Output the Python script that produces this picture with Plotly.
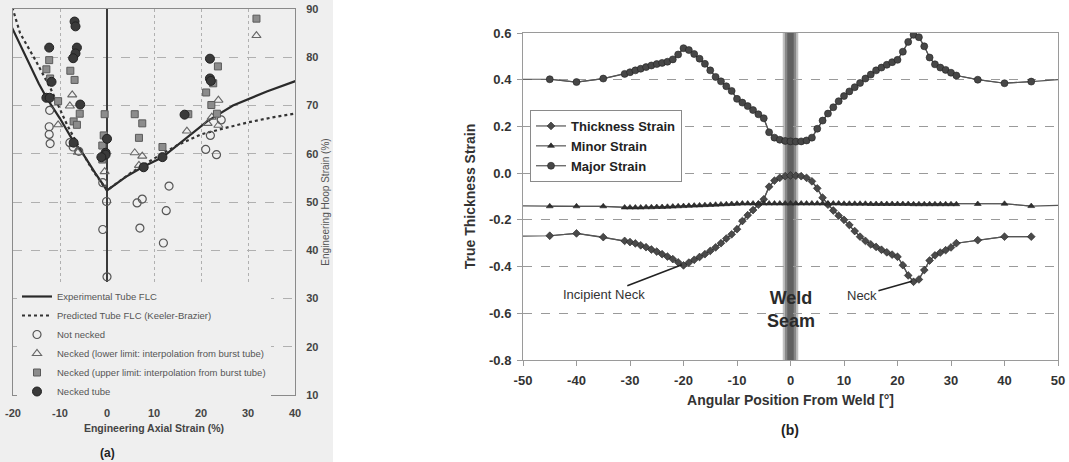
import plotly.graph_objects as go

# ---------------- Panel (a) data ----------------
exp_flc_x = [-20.5, -17, -14.5, -12.8, -10, -7.4, -5, -2.5, 0, 4, 7.7, 11.7, 16, 21.3, 26.8, 34, 40.5]
exp_flc_y = [86.7, 79.5, 74.5, 71.5, 67.3, 63.0, 59.8, 56.0, 52.4, 55.2, 57.3, 59.2, 62.5, 66.7, 70.0, 72.9, 75.2]

pred_flc_x = [-20.5, -18.5, -15, -12, -8.5, -6, -3, 0, 5, 10, 15, 20, 25, 30, 35, 40.5]
pred_flc_y = [91.5, 85.0, 79.0, 73.5, 66.0, 61.5, 56.5, 52.4, 56.0, 59.0, 61.8, 64.0, 65.3, 66.5, 67.5, 68.4]

not_necked_x = [-12.2, -12.3, -12.3, -12.1, -7.9, -7.2, -6.0, -0.9, -0.1, -0.9, 0.0, 6.4, 7.5, 7.0, 12.6, 13.2, 12.0, 21.0, 23.3, 22.0, 24.3]
not_necked_y = [69.0, 65.6, 64.0, 62.1, 62.3, 61.4, 60.5, 54.0, 50.1, 44.3, 34.5, 49.8, 50.6, 44.6, 48.2, 53.3, 41.5, 60.9, 59.8, 63.8, 67.0]

lower_x = [-10.4, -7.4, -7.9, -6.2, -0.5, 5.9, 7.5, 6.8, 17.0, 23.7, 21.4, 22.3, 23.7, 31.8]
lower_y = [66.0, 72.2, 69.9, 60.3, 56.3, 60.2, 59.5, 57.6, 64.7, 71.1, 66.3, 67.6, 65.9, 84.5]

upper_x = [-12.3, -12.9, -12.1, -10.4, -7.8, -6.9, -5.8, -7.1, -6.4, -0.5, -0.7, -1.0, -1.0, 5.9, 7.5, 6.8, 11.8, 17.3, 23.6, 21.1, 22.6, 22.2, 23.4, 31.8]
upper_y = [79.4, 77.5, 75.6, 70.9, 77.2, 75.3, 68.3, 66.7, 66.0, 68.2, 63.8, 61.7, 58.8, 68.2, 66.3, 63.3, 61.4, 68.2, 78.1, 72.7, 74.6, 70.1, 68.3, 88.0]

necked_x = [-12.3, -11.8, -12.9, -12.2, -6.9, -6.7, -6.4, -6.7, -7.2, -5.7, -7.1, 0.0, -0.3, -0.3, -1.2, 7.8, 11.8, 16.5, 21.9, 21.9, 22.1]
necked_y = [82.0, 74.9, 71.6, 71.6, 87.4, 86.4, 82.0, 80.8, 79.8, 70.2, 62.3, 63.1, 60.2, 59.8, 59.3, 57.2, 59.3, 68.1, 79.7, 75.6, 75.1]

a_x_ticks = [-20, -10, 0, 10, 20, 30, 40]
a_x_ticklabels = ["-20", "-10", "0", "10", "20", "30", "40"]
a_y_ticks = [10, 20, 30, 40, 50, 60, 70, 80, 90]

# ---------------- Panel (b) data ----------------
major_x = [-50, -45, -40, -35,
           -31, -30, -29, -28, -27, -26, -25, -24, -23, -22, -21, -20, -19, -18, -17, -16,
           -15, -14, -13, -12, -11, -10, -9, -8, -7, -6, -5, -4, -3, -2, -1, 0,
           1, 2, 3, 4, 5, 6, 7, 8, 9, 10, 11, 12, 13, 14, 15, 16, 17, 18, 19, 20,
           21, 22, 23, 24, 25, 26, 27, 28, 29, 30, 31,
           35, 40, 45, 50]
major_y = [0.402, 0.402, 0.390, 0.405,
           0.425, 0.432, 0.440, 0.447, 0.454, 0.461, 0.467, 0.472, 0.477, 0.487, 0.508, 0.535, 0.527, 0.510, 0.490, 0.468,
           0.440, 0.412, 0.393, 0.372, 0.352, 0.318, 0.302, 0.287, 0.270, 0.252, 0.235, 0.175, 0.152, 0.143, 0.138, 0.136,
           0.135, 0.136, 0.140, 0.152, 0.190, 0.225, 0.255, 0.282, 0.308, 0.330, 0.350, 0.368, 0.386, 0.405, 0.422, 0.440, 0.452, 0.464, 0.475, 0.485,
           0.520, 0.562, 0.592, 0.582, 0.543, 0.495, 0.466, 0.452, 0.442, 0.430, 0.418,
           0.400, 0.385, 0.392, 0.400]

minor_x = [-50, -45, -40, -35,
           -31, -30, -29, -28, -27, -26, -25, -24, -23, -22, -21, -20, -19, -18, -17, -16,
           -15, -14, -13, -12, -11, -10, -9, -8, -7, -6, -5, -4, -3, -2, -1, 0,
           1, 2, 3, 4, 5, 6, 7, 8, 9, 10, 11, 12, 13, 14, 15, 16, 17, 18, 19, 20,
           21, 22, 23, 24, 25, 26, 27, 28, 29, 30, 31,
           35, 40, 45, 50]
minor_y = [-0.140, -0.142, -0.142, -0.142,
           -0.147, -0.147, -0.147, -0.147, -0.146, -0.146, -0.145, -0.145, -0.144, -0.143, -0.142, -0.141, -0.140, -0.139, -0.138, -0.137,
           -0.136, -0.135, -0.134, -0.133, -0.132, -0.131, -0.130, -0.130, -0.130, -0.130, -0.130, -0.130, -0.130, -0.130, -0.130, -0.130,
           -0.130, -0.130, -0.130, -0.130, -0.130, -0.130, -0.130, -0.130, -0.130, -0.131, -0.131, -0.131, -0.131, -0.131, -0.132, -0.132, -0.132, -0.132, -0.132, -0.132,
           -0.132, -0.132, -0.133, -0.133, -0.133, -0.133, -0.133, -0.133, -0.133, -0.133, -0.133,
           -0.132, -0.131, -0.141, -0.138]

thick_x = [-50, -45, -40, -35,
           -31, -30, -29, -28, -27, -26, -25, -24, -23, -22, -21, -20, -19, -18, -17, -16,
           -15, -14, -13, -12, -11, -10, -9, -8, -7, -6, -5, -4, -3, -2, -1, 0,
           1, 2, 3, 4, 5, 6, 7, 8, 9, 10, 11, 12, 13, 14, 15, 16, 17, 18, 19, 20,
           21, 22, 23, 24, 25, 26, 27, 28, 29, 30, 31,
           35, 40, 45]
thick_y = [-0.270, -0.268, -0.258, -0.274,
           -0.290, -0.295, -0.301, -0.309, -0.317, -0.327, -0.336, -0.347, -0.357, -0.368, -0.382, -0.395, -0.383, -0.371, -0.359, -0.347,
           -0.333, -0.318, -0.300, -0.280, -0.262, -0.240, -0.205, -0.180, -0.158, -0.135, -0.112, -0.058, -0.032, -0.020, -0.013, -0.010,
           -0.011, -0.013, -0.020, -0.035, -0.065, -0.105, -0.135, -0.160, -0.182, -0.200, -0.222, -0.248, -0.272, -0.290, -0.305, -0.316, -0.328, -0.339, -0.349, -0.358,
           -0.394, -0.438, -0.465, -0.455, -0.415, -0.374, -0.352, -0.340, -0.330, -0.318, -0.300,
           -0.287, -0.272, -0.272]

b_x_ticks = [-50, -40, -30, -20, -10, 0, 10, 20, 30, 40, 50]
b_x_ticklabels = ["-50", "-40", "-30", "-20", "-10", "0", "10", "20", "30", "40", "50"]
b_y_ticks = [-0.8, -0.6, -0.4, -0.2, 0.0, 0.2, 0.4, 0.6]
b_y_ticklabels = ["-0.8", "-0.6", "-0.4", "-0.2", "0.0", "0.2", "0.4", "0.6"]

FONT = "Liberation Sans, Arial, Helvetica, sans-serif"
W, H = 1069, 462

fig = go.Figure()

# ---- panel (a) traces ----
fig.add_trace(go.Scatter(x=exp_flc_x, y=exp_flc_y, mode="lines", name="Experimental Tube FLC",
                         line=dict(color="#2a2a2a", width=2.2), xaxis="x", yaxis="y", legend="legend"))
fig.add_trace(go.Scatter(x=pred_flc_x, y=pred_flc_y, mode="lines", name="Predicted Tube FLC (Keeler-Brazier)",
                         line=dict(color="#333333", width=2.2, dash="dot"), xaxis="x", yaxis="y", legend="legend"))
fig.add_trace(go.Scatter(x=not_necked_x, y=not_necked_y, mode="markers", name="Not necked",
                         marker=dict(symbol="circle-open", size=8, color="#555555", line=dict(width=1.2)),
                         xaxis="x", yaxis="y", legend="legend"))
fig.add_trace(go.Scatter(x=lower_x, y=lower_y, mode="markers", name="Necked (lower limit: interpolation from burst tube)",
                         marker=dict(symbol="triangle-up-open", size=8, color="#666666", line=dict(width=1.1)),
                         xaxis="x", yaxis="y", legend="legend"))
fig.add_trace(go.Scatter(x=upper_x, y=upper_y, mode="markers", name="Necked (upper limit: interpolation from burst tube)",
                         marker=dict(symbol="square", size=7, color="#8c8c8c", line=dict(width=1, color="#5a5a5a")),
                         xaxis="x", yaxis="y", legend="legend"))
fig.add_trace(go.Scatter(x=necked_x, y=necked_y, mode="markers", name="Necked tube",
                         marker=dict(symbol="circle", size=9, color="#3a3a3a", line=dict(width=1, color="#222222")),
                         xaxis="x", yaxis="y", legend="legend"))

# ---- panel (b) traces ----
def inner(xs, ys):
    px = [a for a in xs if abs(a) < 50]
    py = [b for a, b in zip(xs, ys) if abs(a) < 50]
    return px, py

for xs, ys, name, sym, size, col in [
        (thick_x, thick_y, "Thickness Strain", "diamond", 6, "#4a4a4a"),
        (minor_x, minor_y, "Minor Strain", "triangle-up", 6, "#2f2f2f"),
        (major_x, major_y, "Major Strain", "circle", 7, "#474747")]:
    fig.add_trace(go.Scatter(x=xs, y=ys, mode="lines", showlegend=False, hoverinfo="skip",
                             line=dict(color="#555555", width=1.2), xaxis="x2", yaxis="y2"))
    ix, iy = inner(xs, ys)
    fig.add_trace(go.Scatter(x=ix, y=iy, mode="lines+markers", name=name,
                             line=dict(color="#555555", width=1.2),
                             marker=dict(symbol=sym, size=size, color=col, line=dict(width=0.6, color="#222222")),
                             xaxis="x2", yaxis="y2", legend="legend2"))

shapes = [
    # light scanned background behind panel (a)
    dict(type="rect", xref="paper", yref="paper", x0=0, x1=0.3115, y0=0, y1=1,
         fillcolor="#efefef", line=dict(width=0), layer="below"),
]
# weld seam band (gradient from overlapping bands)
for half, alpha in [(1.45, 0.30), (1.05, 0.40), (0.6, 0.45)]:
    shapes.append(dict(type="rect", xref="x2", yref="y2", x0=-half, x1=half, y0=-0.8, y1=0.6,
                       fillcolor=f"rgba(50,50,50,{alpha})", line=dict(width=0), layer="below"))

annotations = [
    dict(text="<b>(a)</b>", xref="paper", yref="paper", x=107 / W, y=1 - 453 / H, showarrow=False,
         xanchor="center", yanchor="middle",
         font=dict(family=FONT, size=12, color="#222")),
    dict(text="<b>(b)</b>", xref="paper", yref="paper", x=790 / W, y=1 - 430 / H, showarrow=False,
         xanchor="center", yanchor="middle",
         font=dict(family=FONT, size=14, color="#222")),
    dict(text="<b>Weld<br>Seam</b>", xref="x2", yref="y2", x=0, y=-0.582, showarrow=False,
         font=dict(family=FONT, size=18, color="#2a2a2a")),
    dict(text="Incipient Neck", xref="x2", yref="y2", x=-20.3, y=-0.392, ax=-78, ay=30,
         showarrow=True, arrowhead=0, arrowwidth=1.6, arrowcolor="#222",
         font=dict(family=FONT, size=13, color="#333")),
    dict(text="Neck", xref="x2", yref="y2", x=22.7, y=-0.463, ax=-50, ay=14,
         showarrow=True, arrowhead=0, arrowwidth=1.6, arrowcolor="#222",
         font=dict(family=FONT, size=13, color="#333")),
]

fig.update_layout(
    width=W, height=H, margin=dict(l=0, r=0, t=0, b=0, autoexpand=False),
    paper_bgcolor="white", plot_bgcolor="rgba(0,0,0,0)",
    font=dict(family=FONT),
    shapes=shapes, annotations=annotations,
    xaxis=dict(domain=[13 / W, 295 / W], anchor="y", range=[-20, 40], automargin=False,
               tickvals=a_x_ticks, ticktext=a_x_ticklabels,
               showgrid=True, gridcolor="#b0b0b0", griddash="dot", gridwidth=1,
               zeroline=True, zerolinecolor="#3a3a3a", zerolinewidth=1.5,
               showline=True, linecolor="#8a8a8a", linewidth=1, mirror=True,
               ticks="", ticklabelstandoff=8,
               tickfont=dict(family=FONT, size=11, color="#444", weight="bold"),
               title=dict(text="Engineering Axial Strain (%)", standoff=6,
                          font=dict(family=FONT, size=10.5, color="#444", weight="bold"))),
    yaxis=dict(domain=[1 - 395 / H, 1 - 9 / H], anchor="x", side="right", range=[10, 90], automargin=False,
               tickvals=a_y_ticks,
               showgrid=True, gridcolor="#b0b0b0", griddash="dash", gridwidth=1,
               zeroline=False, showline=True, linecolor="#8a8a8a", linewidth=1, mirror=True,
               ticks="", ticklabelstandoff=8,
               tickfont=dict(family=FONT, size=11, color="#444", weight="bold"),
               title=dict(text="Engineering Hoop Strain (%)", standoff=4,
                          font=dict(family=FONT, size=10, color="#555"))),
    xaxis2=dict(domain=[523 / W, 1058 / W], anchor="y2", range=[-50, 50], automargin=False,
                tickvals=b_x_ticks, ticktext=b_x_ticklabels,
                showgrid=False, zeroline=False, showline=True, linecolor="#9a9a9a", linewidth=1, mirror=True,
                ticks="outside", ticklen=5, tickcolor="#9a9a9a", ticklabelstandoff=3,
                tickfont=dict(family=FONT, size=13, color="#333", weight="bold"),
                title=dict(text="Angular Position From Weld [°]", standoff=8,
                           font=dict(family=FONT, size=14, color="#333", weight="bold"))),
    yaxis2=dict(domain=[1 - 360 / H, 1 - 33 / H], anchor="x2", range=[-0.8, 0.6], automargin=False,
                tickvals=b_y_ticks, ticktext=b_y_ticklabels,
                showgrid=True, gridcolor="#9a9a9a", griddash="dash", gridwidth=1,
                zeroline=False, showline=True, linecolor="#9a9a9a", linewidth=1, mirror=True,
                ticks="outside", ticklen=5, tickcolor="#9a9a9a", ticklabelstandoff=3,
                tickfont=dict(family=FONT, size=13, color="#333", weight="bold"),
                title=dict(text="True Thickness Strain", standoff=10,
                           font=dict(family=FONT, size=14, color="#333", weight="bold"))),
    legend=dict(x=17 / W, y=1 - 282 / H, xanchor="left", yanchor="top",
                bgcolor="#efefef", borderwidth=0, tracegroupgap=0,
                font=dict(family=FONT, size=9.5, color="#555")),
    legend2=dict(x=530 / W, y=1 - 110 / H, xanchor="left", yanchor="top",
                 bgcolor="white", bordercolor="#8a8a8a", borderwidth=1, tracegroupgap=0,
                 font=dict(family=FONT, size=13, color="#222", weight="bold")),
    showlegend=True,
)

fig.write_html("out.html")
